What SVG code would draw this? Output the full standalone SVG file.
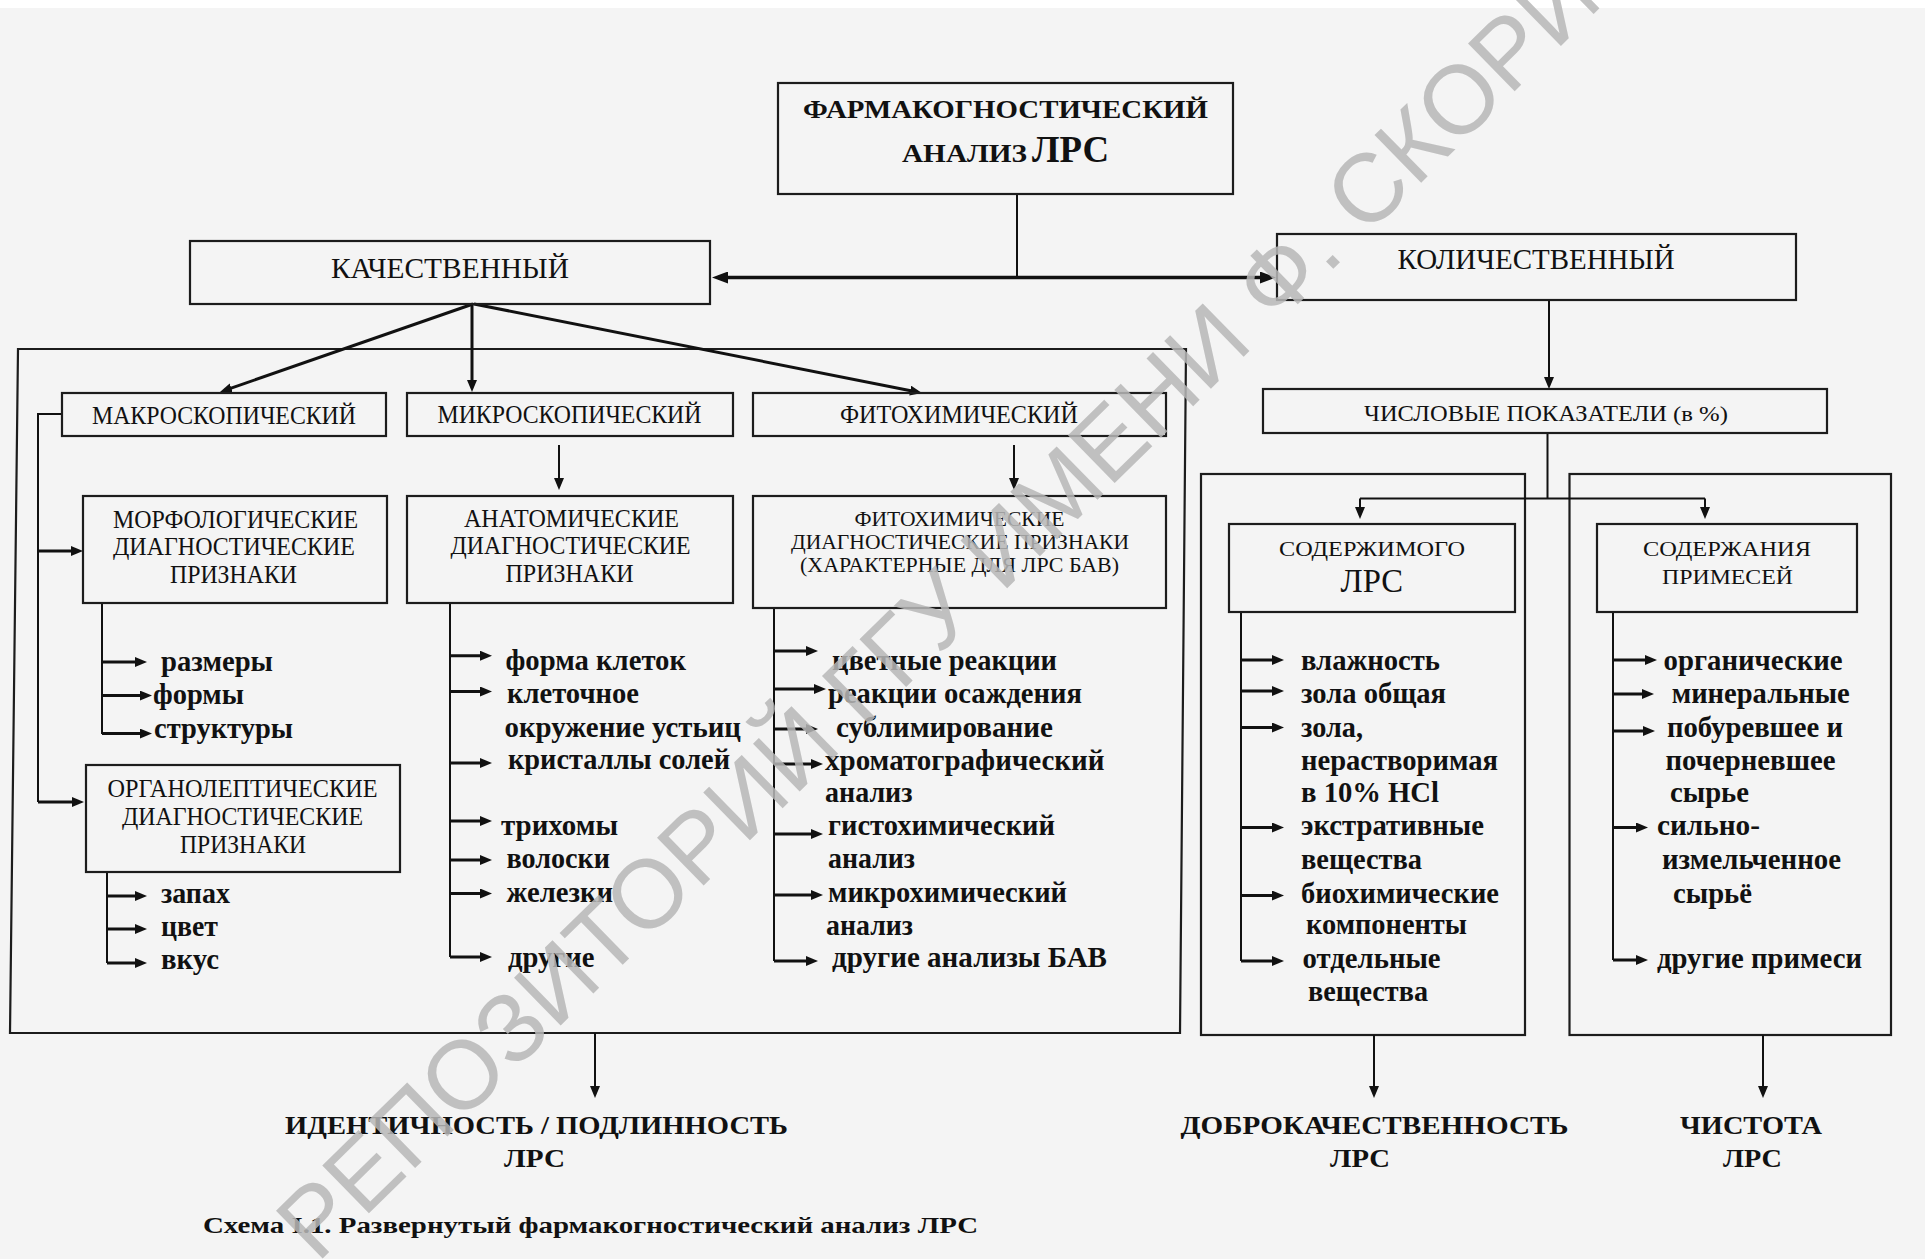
<svg xmlns="http://www.w3.org/2000/svg" width="1925" height="1259" viewBox="0 0 1925 1259">
<style>
.bg{fill:#f4f4f4}
.box{fill:none;stroke:#1c1c1c;stroke-width:2.2}
.ln{fill:none;stroke:#111;stroke-width:2}
.lb{fill:none;stroke:#111;stroke-width:3}
.t{font-family:"Liberation Serif","Times New Roman",serif;fill:#111}
.tb{font-family:"Liberation Serif","Times New Roman",serif;font-weight:bold;fill:#111}
.wm{font-family:"Liberation Sans",Arial,sans-serif;fill:#b8b8b8;opacity:0.85}
</style>
<defs>
<marker id="a" viewBox="0 0 12 10" markerWidth="12" markerHeight="10" refX="7" refY="5" orient="auto" markerUnits="userSpaceOnUse"><path d="M0,0L12,5L0,10z" fill="#111"/></marker>
<marker id="A" viewBox="0 0 16 12" markerWidth="16" markerHeight="12" refX="10" refY="6" orient="auto-start-reverse" markerUnits="userSpaceOnUse"><path d="M0,0L16,6L0,12z" fill="#111"/></marker>
</defs>
<rect class="bg" x="0" y="0" width="1925" height="1259"/>
<rect x="0" y="0" width="1925" height="8" fill="#ffffff"/>

<g id="containers">
<polygon class="box" points="18,349 1186,349 1180,1033 10,1033"/>
<rect class="box" x="1201" y="474" width="324" height="561"/>
<rect class="box" x="1569.5" y="474" width="321.5" height="561"/>
</g>

<g id="connectors">
<path class="ln" d="M1017,194V277"/>
<path class="lb" style="stroke-width:3.5" d="M718,277.5H1270" marker-start="url(#A)" marker-end="url(#A)"/>
<path class="lb" d="M473,304L224.7,390.4" marker-end="url(#a)"/>
<path class="lb" d="M472,304V387" marker-end="url(#a)"/>
<path class="lb" d="M474,304L917.1,392" marker-end="url(#a)"/>
<path class="ln" d="M62,414H38V802"/>
<path class="lb" d="M38,551H78" marker-end="url(#a)"/>
<path class="lb" d="M38,802H79" marker-end="url(#a)"/>
<path class="ln" d="M559,445V485" marker-end="url(#a)"/>
<path class="ln" d="M1014,445V485" marker-end="url(#a)"/>
<path class="ln" d="M102,603V734"/>
<path class="lb" d="M102,662H142" marker-end="url(#a)"/>
<path class="lb" d="M102,695.6H147" marker-end="url(#a)"/>
<path class="lb" d="M102,733.6H147" marker-end="url(#a)"/>
<path class="ln" d="M107,872V963"/>
<path class="lb" d="M107,896H142" marker-end="url(#a)"/>
<path class="lb" d="M107,929H142" marker-end="url(#a)"/>
<path class="lb" d="M107,963H142" marker-end="url(#a)"/>
<path class="ln" d="M450,603V957"/>
<path class="lb" d="M450,655.7H487" marker-end="url(#a)"/>
<path class="lb" d="M450,691.5H487" marker-end="url(#a)"/>
<path class="lb" d="M450,763H487" marker-end="url(#a)"/>
<path class="lb" d="M450,821H487" marker-end="url(#a)"/>
<path class="lb" d="M450,860H487" marker-end="url(#a)"/>
<path class="lb" d="M450,893.5H487" marker-end="url(#a)"/>
<path class="lb" d="M450,957H487" marker-end="url(#a)"/>
<path class="ln" d="M774,608V961"/>
<path class="lb" d="M774,651H813" marker-end="url(#a)"/>
<path class="lb" d="M774,689H821" marker-end="url(#a)"/>
<path class="lb" d="M774,729H813" marker-end="url(#a)"/>
<path class="lb" d="M774,764H818" marker-end="url(#a)"/>
<path class="lb" d="M774,834H818" marker-end="url(#a)"/>
<path class="lb" d="M774,895H818" marker-end="url(#a)"/>
<path class="lb" d="M774,961H813" marker-end="url(#a)"/>
<path class="ln" d="M1549,300V384" marker-end="url(#a)"/>
<path class="ln" d="M1547.5,433V498.6"/>
<path class="ln" d="M1360,498.6H1705"/>
<path class="ln" d="M1360,498.6V514" marker-end="url(#a)"/>
<path class="ln" d="M1705,498.6V514" marker-end="url(#a)"/>
<path class="ln" d="M1241,612V961"/>
<path class="lb" d="M1241,660H1279" marker-end="url(#a)"/>
<path class="lb" d="M1241,691H1279" marker-end="url(#a)"/>
<path class="lb" d="M1241,727.5H1279" marker-end="url(#a)"/>
<path class="lb" d="M1241,827.5H1279" marker-end="url(#a)"/>
<path class="lb" d="M1241,895.5H1279" marker-end="url(#a)"/>
<path class="lb" d="M1241,961H1279" marker-end="url(#a)"/>
<path class="ln" d="M1613,612V960"/>
<path class="lb" d="M1613,660H1652" marker-end="url(#a)"/>
<path class="lb" d="M1613,694H1649" marker-end="url(#a)"/>
<path class="lb" d="M1613,731H1650" marker-end="url(#a)"/>
<path class="lb" d="M1613,827.5H1643" marker-end="url(#a)"/>
<path class="lb" d="M1613,960H1643" marker-end="url(#a)"/>
<path class="ln" d="M595,1033V1093" marker-end="url(#a)"/>
<path class="ln" d="M1374,1035V1093" marker-end="url(#a)"/>
<path class="ln" d="M1763,1035V1093" marker-end="url(#a)"/>
</g>

<g id="n-root">
<rect class="box" x="778" y="83" width="455" height="111"/>
<text class="tb" x="803" y="118" font-size="25" textLength="405" lengthAdjust="spacingAndGlyphs">ФАРМАКОГНОСТИЧЕСКИЙ</text>
<text class="tb" x="902" y="161.7" font-size="26" textLength="125" lengthAdjust="spacingAndGlyphs">АНАЛИЗ</text>
<text class="tb" x="1032" y="161.7" font-size="37" textLength="77" lengthAdjust="spacingAndGlyphs">ЛРС</text>
</g>

<g id="n-kach">
<rect class="box" x="190" y="241" width="520" height="63"/>
<text class="t" x="331" y="278" font-size="29" textLength="238" lengthAdjust="spacingAndGlyphs">КАЧЕСТВЕННЫЙ</text>
</g>

<g id="n-kolich">
<rect class="box" x="1277" y="234" width="519" height="66"/>
<text class="t" x="1397.6" y="269" font-size="29" textLength="277" lengthAdjust="spacingAndGlyphs">КОЛИЧЕСТВЕННЫЙ</text>
</g>

<g id="n-makro">
<rect class="box" x="62" y="393" width="324" height="43"/>
<text class="t" x="92" y="424" font-size="25" textLength="264" lengthAdjust="spacingAndGlyphs">МАКРОСКОПИЧЕСКИЙ</text>
</g>

<g id="n-mikro">
<rect class="box" x="407" y="393" width="326" height="43"/>
<text class="t" x="437.5" y="423" font-size="25" textLength="264" lengthAdjust="spacingAndGlyphs">МИКРОСКОПИЧЕСКИЙ</text>
</g>

<g id="n-fito">
<rect class="box" x="753" y="393" width="413" height="43"/>
<text class="t" x="840" y="423" font-size="25" textLength="238" lengthAdjust="spacingAndGlyphs">ФИТОХИМИЧЕСКИЙ</text>
</g>

<g id="n-morfo">
<rect class="box" x="83" y="496" width="304" height="107"/>
<text class="t" x="113" y="527.5" font-size="25" textLength="245" lengthAdjust="spacingAndGlyphs">МОРФОЛОГИЧЕСКИЕ</text>
<text class="t" x="113" y="555" font-size="25" textLength="242" lengthAdjust="spacingAndGlyphs">ДИАГНОСТИЧЕСКИЕ</text>
<text class="t" x="170" y="583" font-size="25" textLength="127" lengthAdjust="spacingAndGlyphs">ПРИЗНАКИ</text>
</g>

<g id="n-anatom">
<rect class="box" x="407" y="496" width="326" height="107"/>
<text class="t" x="464" y="526.5" font-size="25" textLength="215" lengthAdjust="spacingAndGlyphs">АНАТОМИЧЕСКИЕ</text>
<text class="t" x="450.6" y="554" font-size="25" textLength="240" lengthAdjust="spacingAndGlyphs">ДИАГНОСТИЧЕСКИЕ</text>
<text class="t" x="505.5" y="582" font-size="25" textLength="128" lengthAdjust="spacingAndGlyphs">ПРИЗНАКИ</text>
</g>

<g id="n-fito2">
<rect class="box" x="753" y="496" width="413" height="112"/>
<text class="t" x="854.5" y="526" font-size="20" textLength="210" lengthAdjust="spacingAndGlyphs">ФИТОХИМИЧЕСКИЕ</text>
<text class="t" x="791" y="549" font-size="20" textLength="338" lengthAdjust="spacingAndGlyphs">ДИАГНОСТИЧЕСКИЕ ПРИЗНАКИ</text>
<text class="t" x="800" y="572" font-size="20" textLength="319" lengthAdjust="spacingAndGlyphs">(ХАРАКТЕРНЫЕ ДЛЯ ЛРС БАВ)</text>
</g>

<g id="n-organo">
<rect class="box" x="86" y="765" width="314" height="107"/>
<text class="t" x="107.5" y="797" font-size="25" textLength="270" lengthAdjust="spacingAndGlyphs">ОРГАНОЛЕПТИЧЕСКИЕ</text>
<text class="t" x="122" y="825" font-size="25" textLength="241" lengthAdjust="spacingAndGlyphs">ДИАГНОСТИЧЕСКИЕ</text>
<text class="t" x="180" y="853" font-size="25" textLength="126" lengthAdjust="spacingAndGlyphs">ПРИЗНАКИ</text>
</g>

<g id="n-chisl">
<rect class="box" x="1263" y="389" width="564" height="44"/>
<text class="t" x="1364" y="420.7" font-size="24" textLength="303" lengthAdjust="spacingAndGlyphs">ЧИСЛОВЫЕ  ПОКАЗАТЕЛИ</text>
<text class="t" x="1673" y="420.7" font-size="22" textLength="55" lengthAdjust="spacingAndGlyphs">(в %)</text>
</g>

<g id="n-soderzh">
<rect class="box" x="1229" y="524" width="286" height="88"/>
<text class="t" x="1279" y="555.5" font-size="22" textLength="186" lengthAdjust="spacingAndGlyphs">СОДЕРЖИМОГО</text>
<text class="t" x="1340.5" y="592" font-size="33" textLength="62.5" lengthAdjust="spacingAndGlyphs">ЛРС</text>
</g>

<g id="n-primesi">
<rect class="box" x="1597" y="524" width="260" height="88"/>
<text class="t" x="1643" y="555.5" font-size="22" textLength="168" lengthAdjust="spacingAndGlyphs">СОДЕРЖАНИЯ</text>
<text class="t" x="1662" y="584" font-size="22" textLength="131" lengthAdjust="spacingAndGlyphs">ПРИМЕСЕЙ</text>
</g>

<g id="l-morfo">
<text class="tb" x="161" y="671" font-size="30" textLength="112" lengthAdjust="spacingAndGlyphs">размеры</text>
<text class="tb" x="153" y="704" font-size="30" textLength="91" lengthAdjust="spacingAndGlyphs">формы</text>
<text class="tb" x="154" y="738" font-size="30" textLength="139" lengthAdjust="spacingAndGlyphs">структуры</text>
</g>

<g id="l-organo">
<text class="tb" x="161" y="903" font-size="30" textLength="69" lengthAdjust="spacingAndGlyphs">запах</text>
<text class="tb" x="161" y="936" font-size="30" textLength="57" lengthAdjust="spacingAndGlyphs">цвет</text>
<text class="tb" x="161" y="969" font-size="30" textLength="58" lengthAdjust="spacingAndGlyphs">вкус</text>
</g>

<g id="l-anatom">
<text class="tb" x="505.5" y="670" font-size="30" textLength="180.5" lengthAdjust="spacingAndGlyphs">форма клеток</text>
<text class="tb" x="507" y="703" font-size="30" textLength="132" lengthAdjust="spacingAndGlyphs">клеточное</text>
<text class="tb" x="504.5" y="737" font-size="30" textLength="236.5" lengthAdjust="spacingAndGlyphs">окружение устьиц</text>
<text class="tb" x="508" y="769" font-size="30" textLength="222" lengthAdjust="spacingAndGlyphs">кристаллы солей</text>
<text class="tb" x="501" y="834.5" font-size="30" textLength="117" lengthAdjust="spacingAndGlyphs">трихомы</text>
<text class="tb" x="506.5" y="868" font-size="30" textLength="103.5" lengthAdjust="spacingAndGlyphs">волоски</text>
<text class="tb" x="506.5" y="902" font-size="30" textLength="106.5" lengthAdjust="spacingAndGlyphs">железки</text>
<text class="tb" x="508" y="967" font-size="30" textLength="86.5" lengthAdjust="spacingAndGlyphs">другие</text>
</g>

<g id="l-fito">
<text class="tb" x="832" y="670" font-size="30" textLength="225" lengthAdjust="spacingAndGlyphs">цветные реакции</text>
<text class="tb" x="828" y="703" font-size="30" textLength="254" lengthAdjust="spacingAndGlyphs">реакции осаждения</text>
<text class="tb" x="836" y="737" font-size="30" textLength="217" lengthAdjust="spacingAndGlyphs">сублимирование</text>
<text class="tb" x="825" y="770" font-size="30" textLength="279.5" lengthAdjust="spacingAndGlyphs">хроматографический</text>
<text class="tb" x="825" y="802" font-size="30" textLength="87.5" lengthAdjust="spacingAndGlyphs">анализ</text>
<text class="tb" x="828" y="835" font-size="30" textLength="227" lengthAdjust="spacingAndGlyphs">гистохимический</text>
<text class="tb" x="828" y="868" font-size="30" textLength="87" lengthAdjust="spacingAndGlyphs">анализ</text>
<text class="tb" x="828" y="902" font-size="30" textLength="239" lengthAdjust="spacingAndGlyphs">микрохимический</text>
<text class="tb" x="826" y="935" font-size="30" textLength="87" lengthAdjust="spacingAndGlyphs">анализ</text>
<text class="tb" x="832" y="967" font-size="30" textLength="275" lengthAdjust="spacingAndGlyphs">другие анализы БАВ</text>
</g>

<g id="l-soderzh">
<text class="tb" x="1301" y="670" font-size="30" textLength="139" lengthAdjust="spacingAndGlyphs">влажность</text>
<text class="tb" x="1301" y="703" font-size="30" textLength="145" lengthAdjust="spacingAndGlyphs">зола общая</text>
<text class="tb" x="1301" y="737" font-size="30" textLength="62" lengthAdjust="spacingAndGlyphs">зола,</text>
<text class="tb" x="1301" y="770" font-size="30" textLength="197" lengthAdjust="spacingAndGlyphs">нерастворимая</text>
<text class="tb" x="1301" y="802" font-size="30" textLength="138" lengthAdjust="spacingAndGlyphs">в 10% HCl</text>
<text class="tb" x="1301" y="835" font-size="30" textLength="183" lengthAdjust="spacingAndGlyphs">экстративные</text>
<text class="tb" x="1301" y="869" font-size="30" textLength="121" lengthAdjust="spacingAndGlyphs">вещества</text>
<text class="tb" x="1301" y="902.6" font-size="30" textLength="198" lengthAdjust="spacingAndGlyphs">биохимические</text>
<text class="tb" x="1306" y="934" font-size="30" textLength="161" lengthAdjust="spacingAndGlyphs">компоненты</text>
<text class="tb" x="1302.6" y="968" font-size="30" textLength="138" lengthAdjust="spacingAndGlyphs">отдельные</text>
<text class="tb" x="1308" y="1001" font-size="30" textLength="120" lengthAdjust="spacingAndGlyphs">вещества</text>
</g>

<g id="l-primesi">
<text class="tb" x="1663.6" y="670" font-size="30" textLength="179" lengthAdjust="spacingAndGlyphs">органические</text>
<text class="tb" x="1671.7" y="703" font-size="30" textLength="178" lengthAdjust="spacingAndGlyphs">минеральные</text>
<text class="tb" x="1667" y="737" font-size="30" textLength="176" lengthAdjust="spacingAndGlyphs">побуревшее и</text>
<text class="tb" x="1665.5" y="770" font-size="30" textLength="170" lengthAdjust="spacingAndGlyphs">почерневшее</text>
<text class="tb" x="1670" y="802" font-size="30" textLength="79" lengthAdjust="spacingAndGlyphs">сырье</text>
<text class="tb" x="1657" y="835" font-size="30" textLength="103" lengthAdjust="spacingAndGlyphs">сильно-</text>
<text class="tb" x="1662" y="869" font-size="30" textLength="179" lengthAdjust="spacingAndGlyphs">измельченное</text>
<text class="tb" x="1673" y="902.6" font-size="30" textLength="79" lengthAdjust="spacingAndGlyphs">сырьё</text>
<text class="tb" x="1657" y="968" font-size="30" textLength="205" lengthAdjust="spacingAndGlyphs">другие примеси</text>
</g>

<g id="n-ident">
<text class="tb" x="285" y="1134" font-size="26" textLength="503" lengthAdjust="spacingAndGlyphs">ИДЕНТИЧНОСТЬ / ПОДЛИННОСТЬ</text>
<text class="tb" x="504" y="1167" font-size="26" textLength="61" lengthAdjust="spacingAndGlyphs">ЛРС</text>
</g>
<g id="n-dobro">
<text class="tb" x="1180.6" y="1134" font-size="26" textLength="388" lengthAdjust="spacingAndGlyphs">ДОБРОКАЧЕСТВЕННОСТЬ</text>
<text class="tb" x="1330" y="1167" font-size="26" textLength="60" lengthAdjust="spacingAndGlyphs">ЛРС</text>
</g>
<g id="n-chistota">
<text class="tb" x="1680" y="1134" font-size="26" textLength="142" lengthAdjust="spacingAndGlyphs">ЧИСТОТА</text>
<text class="tb" x="1723" y="1167" font-size="26" textLength="59" lengthAdjust="spacingAndGlyphs">ЛРС</text>
</g>

<g id="caption">
<text class="tb" x="203" y="1233" font-size="24" textLength="775" lengthAdjust="spacingAndGlyphs">Схема I.1. Развернутый фармакогностический анализ ЛРС</text>
</g>

<g id="watermark">
<text class="wm" x="317" y="1264" font-size="97" transform="rotate(-44.4 317 1264)">РЕПОЗИТОРИЙ ГГУ ИМЕНИ Ф. СКОРИНЫ</text>
</g>
</svg>
